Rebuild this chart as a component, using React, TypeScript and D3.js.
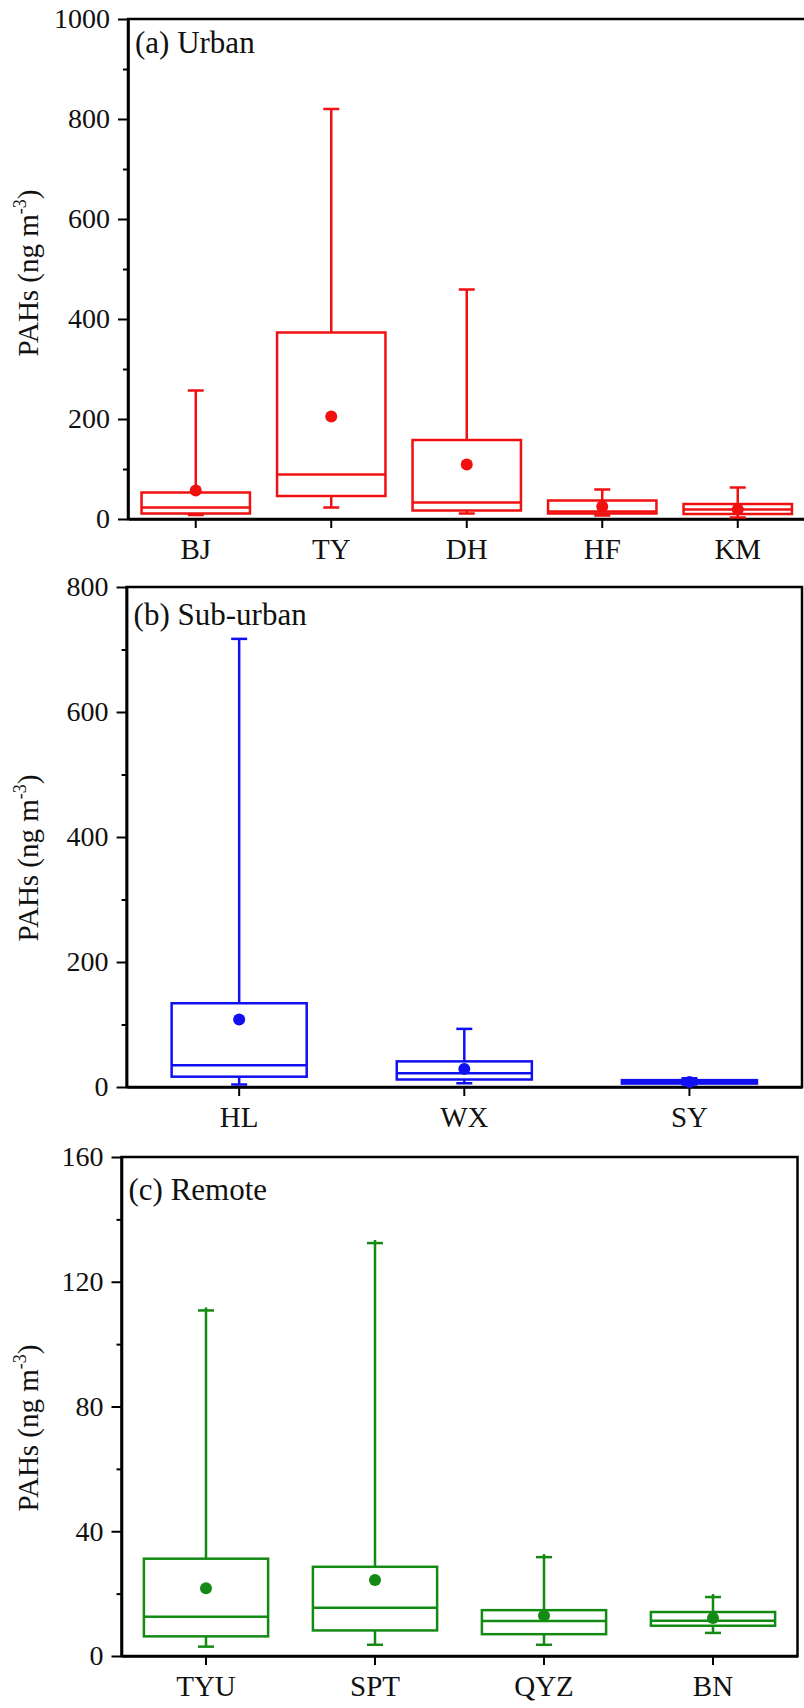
import React, { useEffect, useRef } from "react"
import * as d3 from "d3"

// (a) Urban
const urbanSites = ["BJ", "TY", "DH", "HF", "KM"]
const urbanMin = [8, 23, 11, 7, 3]
const urbanQ1 = [11, 46, 17, 11, 10]
const urbanMedian = [23, 89, 33, 15, 19]
const urbanQ3 = [53, 373, 158, 37, 30]
const urbanMax = [257, 820, 459, 59, 63]
const urbanMean = [57, 205, 109, 25, 19]
const urbanTicks = [0, 200, 400, 600, 800, 1000]
const urbanMinor = [100, 300, 500, 700, 900]

// (b) Sub-urban
const suburbanSites = ["HL", "WX", "SY"]
const suburbanMin = [4, 6, 4]
const suburbanQ1 = [16.5, 12, 5.5]
const suburbanMedian = [35, 22, 8]
const suburbanQ3 = [134, 41, 11]
const suburbanMax = [717, 93, 14]
const suburbanMean = [108, 29, 8]
const suburbanTicks = [0, 200, 400, 600, 800]
const suburbanMinor = [100, 300, 500, 700]

// (c) Remote
const remoteSites = ["TYU", "SPT", "QYZ", "BN"]
const remoteMin = [3, 3.6, 3.6, 7.4]
const remoteQ1 = [6.3, 8.2, 7, 9.7]
const remoteMedian = [12.6, 15.5, 11.2, 11.3]
const remoteQ3 = [31.2, 28.6, 14.7, 14.1]
const remoteMax = [110.8, 132.4, 31.7, 18.9]
const remoteMean = [21.7, 24.4, 12.9, 12.2]
const remoteTicks = [0, 40, 80, 120, 160]
const remoteMinor = [20, 60, 100, 140]

const FONT = "Liberation Serif"

const toRows = (sites, min, q1, med, q3, max, mean) =>
	sites.map((s, i) => ({
		site: s,
		min: min[i],
		q1: q1[i],
		median: med[i],
		q3: q3[i],
		max: max[i],
		mean: mean[i],
	}))

const panels = [
	{
		label: "(a) Urban",
		rows: toRows(urbanSites, urbanMin, urbanQ1, urbanMedian, urbanQ3, urbanMax, urbanMean),
		ticks: urbanTicks,
		minor: urbanMinor,
		color: "#f01010",
		left: 128,
		right: 805.5,
		top: 19,
		bottom: 519,
		boxFrac: 0.8,
		titleY: 273,
		labelDy: 34,
		stub: 0,
	},
	{
		label: "(b) Sub-urban",
		rows: toRows(suburbanSites, suburbanMin, suburbanQ1, suburbanMedian, suburbanQ3, suburbanMax, suburbanMean),
		ticks: suburbanTicks,
		minor: suburbanMinor,
		color: "#1010f0",
		left: 126.6,
		right: 802,
		top: 587,
		bottom: 1087,
		boxFrac: 0.6,
		titleY: 858,
		labelDy: 38,
		stub: 0,
	},
	{
		label: "(c) Remote",
		rows: toRows(remoteSites, remoteMin, remoteQ1, remoteMedian, remoteQ3, remoteMax, remoteMean),
		ticks: remoteTicks,
		minor: remoteMinor,
		color: "#138a13",
		left: 121.5,
		right: 797.5,
		top: 1157,
		bottom: 1656,
		boxFrac: 0.735,
		titleY: 1428,
		labelDy: 43,
		stub: 3,
	},
]

const App = () => {
	const ref = useRef(null)

	useEffect(() => {
		const svg = d3.select(ref.current)
		svg.selectAll("*").remove()

		panels.forEach(p => {
			const g = svg.append("g")
			const x = d3
				.scaleBand()
				.domain(p.rows.map(d => d.site))
				.range([p.left, p.right])
			const y = d3
				.scaleLinear()
				.domain([0, p.ticks[p.ticks.length - 1]])
				.range([p.bottom, p.top])
			const cx = s => x(s) + x.bandwidth() / 2
			const bw = x.bandwidth() * p.boxFrac

			// frame
			g.append("rect")
				.attr("x", p.left)
				.attr("y", p.top)
				.attr("width", p.right - p.left)
				.attr("height", p.bottom - p.top)
				.attr("fill", "none")
				.attr("stroke", "#000")
				.attr("stroke-width", 2.5)

			// minor ticks
			g.append("g")
				.attr("transform", `translate(${p.left},0)`)
				.call(d3.axisLeft(y).tickValues(p.minor).tickSize(5).tickSizeOuter(0).tickFormat(() => ""))
				.call(a => a.select(".domain").remove())
				.selectAll("line")
				.attr("stroke-width", 2)

			// y axis
			const ya = g
				.append("g")
				.attr("transform", `translate(${p.left},0)`)
				.call(
					d3
						.axisLeft(y)
						.tickValues(p.ticks)
						.tickFormat(d3.format("d"))
						.tickSize(10)
						.tickSizeOuter(0)
						.tickPadding(8),
				)
			ya.select(".domain").attr("stroke-width", 2.6)
			ya.selectAll("line").attr("stroke-width", 2)
			ya.selectAll("text")
				.style("font-family", FONT)
				.style("font-size", "28px")
				.attr("fill", "#111")

			// x axis
			const xa = g
				.append("g")
				.attr("transform", `translate(0,${p.bottom})`)
				.call(d3.axisBottom(x).tickSize(9).tickSizeOuter(0))
			xa.select(".domain").attr("stroke-width", 2.6)
			xa.selectAll("line").attr("stroke-width", 2)
			xa.selectAll("text")
				.attr("y", 40)
				.attr("dy", 0)
				.style("font-family", FONT)
				.style("font-size", "29px")
				.attr("fill", "#111")

			// boxes
			const boxes = g
				.selectAll(".box")
				.data(p.rows)
				.join("g")
				.attr("class", "box")
				.attr("stroke", p.color)
				.attr("stroke-width", 2.5)
				.attr("fill", "none")

			boxes
				.append("line")
				.attr("x1", d => cx(d.site))
				.attr("x2", d => cx(d.site))
				.attr("y1", d => y(d.q3))
				.attr("y2", d => y(d.max) - p.stub)
			boxes
				.append("line")
				.attr("x1", d => cx(d.site))
				.attr("x2", d => cx(d.site))
				.attr("y1", d => y(d.q1))
				.attr("y2", d => y(d.min))
			boxes
				.selectAll(".cap")
				.data(d => [d.max, d.min].map(v => ({ site: d.site, v })))
				.join("line")
				.attr("class", "cap")
				.attr("x1", d => cx(d.site) - 8)
				.attr("x2", d => cx(d.site) + 8)
				.attr("y1", d => y(d.v))
				.attr("y2", d => y(d.v))
			boxes
				.append("rect")
				.attr("x", d => cx(d.site) - bw / 2)
				.attr("y", d => y(d.q3))
				.attr("width", bw)
				.attr("height", d => y(d.q1) - y(d.q3))
			boxes
				.append("line")
				.attr("x1", d => cx(d.site) - bw / 2)
				.attr("x2", d => cx(d.site) + bw / 2)
				.attr("y1", d => y(d.median))
				.attr("y2", d => y(d.median))
			boxes
				.append("circle")
				.attr("cx", d => cx(d.site))
				.attr("cy", d => y(d.mean))
				.attr("r", 6)
				.attr("fill", p.color)
				.attr("stroke", "none")

			// panel label
			g.append("text")
				.attr("x", p.left + 7)
				.attr("y", p.top + p.labelDy)
				.style("font-family", FONT)
				.style("font-size", "31px")
				.attr("fill", "#111")
				.text(p.label)

			// y title
			const t = g
				.append("text")
				.attr("transform", `translate(38,${p.titleY}) rotate(-90)`)
				.attr("text-anchor", "middle")
				.style("font-family", FONT)
				.style("font-size", "29px")
				.attr("fill", "#111")
			t.append("tspan").text("PAHs (ng m")
			t.append("tspan").attr("dy", -12).style("font-size", "18px").text("-3")
			t.append("tspan").attr("dy", 12).text(")")
		})
	}, [])

	return (
		<svg
			ref={ref}
			width={804}
			height={1708}
			style={{ position: "absolute", left: 0, top: 0, background: "#fff", fontFamily: FONT }}
		></svg>
	)
}

export default App
